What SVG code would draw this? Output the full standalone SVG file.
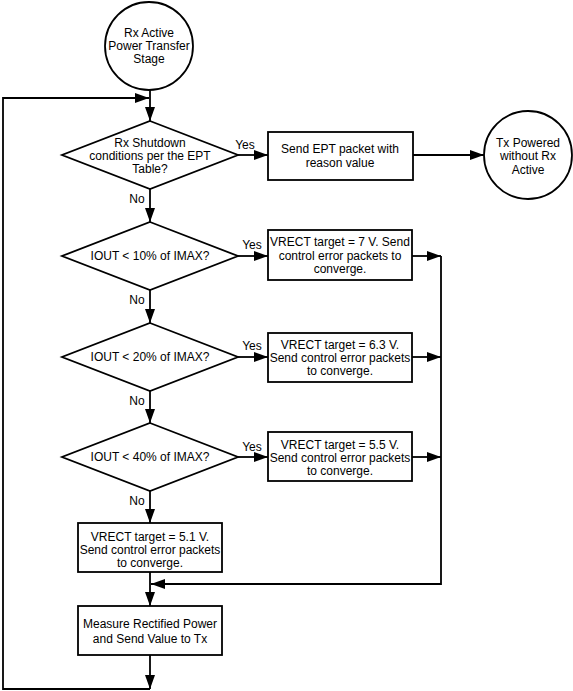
<svg xmlns="http://www.w3.org/2000/svg" width="573" height="691" viewBox="0 0 573 691">
<style>
.s{fill:#fff;stroke:#000;stroke-width:1.8}
.c{fill:none;stroke:#000;stroke-width:1.8}
text{font-family:"Liberation Sans",Arial,sans-serif;font-size:12px;fill:#000;text-anchor:middle}
</style>
<defs>
<marker id="a" markerUnits="userSpaceOnUse" markerWidth="14" markerHeight="10" refX="14" refY="5" orient="auto">
<path d="M0,0 L14,5 L0,10 z" fill="#000"/>
</marker>
</defs>
<rect width="573" height="691" fill="#fff"/>
<g id="connectors">
<path class="c" d="M150,90 V121" marker-end="url(#a)"/>
<path class="c" d="M150,655 V689" marker-end="url(#a)"/>
<path class="c" d="M150,689 H3 V98 H149" marker-end="url(#a)"/>
<path class="c" d="M238,155 H268" marker-end="url(#a)"/>
<path class="c" d="M413,155 H484" marker-end="url(#a)"/>
<path class="c" d="M150,189 V222" marker-end="url(#a)"/>
<path class="c" d="M238,256 H268" marker-end="url(#a)"/>
<path class="c" d="M412,256 H441" marker-end="url(#a)"/>
<path class="c" d="M150,290 V323" marker-end="url(#a)"/>
<path class="c" d="M238,357 H268" marker-end="url(#a)"/>
<path class="c" d="M412,357 H441" marker-end="url(#a)"/>
<path class="c" d="M150,391 V423" marker-end="url(#a)"/>
<path class="c" d="M238,457 H268" marker-end="url(#a)"/>
<path class="c" d="M412,457 H441" marker-end="url(#a)"/>
<path class="c" d="M150,491 V523" marker-end="url(#a)"/>
<path class="c" d="M441,256 V584 H151" marker-end="url(#a)"/>
<path class="c" d="M150,572 V606" marker-end="url(#a)"/>
<text x="245" y="149">Yes</text>
<text x="252" y="249">Yes</text>
<text x="252" y="350">Yes</text>
<text x="252" y="451">Yes</text>
<text x="137" y="203">No</text>
<text x="137" y="304">No</text>
<text x="137" y="405">No</text>
<text x="137" y="505">No</text>
</g>
<g id="start">
<circle class="s" cx="149" cy="46" r="44"/>
<text x="149" y="37">Rx Active</text>
<text x="149" y="50">Power Transfer</text>
<text x="149" y="63">Stage</text>
</g>
<g id="d1">
<polygon class="s" points="150,121 238,155 150,189 62,155"/>
<text x="150" y="147">Rx Shutdown</text>
<text x="150" y="160">conditions per the EPT</text>
<text x="150" y="173">Table?</text>
</g>
<g id="ept">
<rect class="s" x="268" y="132" width="145" height="48"/>
<text x="340" y="153">Send EPT packet with</text>
<text x="340" y="167">reason value</text>
</g>
<g id="end">
<circle class="s" cx="528" cy="155" r="44"/>
<text x="528" y="147">Tx Powered</text>
<text x="528" y="160">without Rx</text>
<text x="528" y="174">Active</text>
</g>
<g id="d2">
<polygon class="s" points="150,222 238,256 150,290 62,256"/>
<text x="150" y="260">IOUT &lt; 10% of IMAX?</text>
</g>
<g id="b1">
<rect class="s" x="268" y="230" width="144" height="50"/>
<text x="340" y="246">VRECT target = 7 V. Send</text>
<text x="340" y="260">control error packets to</text>
<text x="340" y="273">converge.</text>
</g>
<g id="d3">
<polygon class="s" points="150,323 238,357 150,391 62,357"/>
<text x="150" y="361">IOUT &lt; 20% of IMAX?</text>
</g>
<g id="b2">
<rect class="s" x="268" y="333" width="144" height="49"/>
<text x="340" y="349">VRECT target = 6.3 V.</text>
<text x="340" y="362">Send control error packets</text>
<text x="340" y="375">to converge.</text>
</g>
<g id="d4">
<polygon class="s" points="150,423 238,457 150,491 62,457"/>
<text x="150" y="461">IOUT &lt; 40% of IMAX?</text>
</g>
<g id="b3">
<rect class="s" x="268" y="432" width="144" height="49"/>
<text x="340" y="449">VRECT target = 5.5 V.</text>
<text x="340" y="462">Send control error packets</text>
<text x="340" y="475">to converge.</text>
</g>
<g id="b4">
<rect class="s" x="78" y="523" width="144" height="49"/>
<text x="150" y="541">VRECT target = 5.1 V.</text>
<text x="150" y="554">Send control error packets</text>
<text x="150" y="567">to converge.</text>
</g>
<g id="b5">
<rect class="s" x="78" y="606" width="144" height="49"/>
<text x="150" y="628">Measure Rectified Power</text>
<text x="150" y="643">and Send Value to Tx</text>
</g>
</svg>
